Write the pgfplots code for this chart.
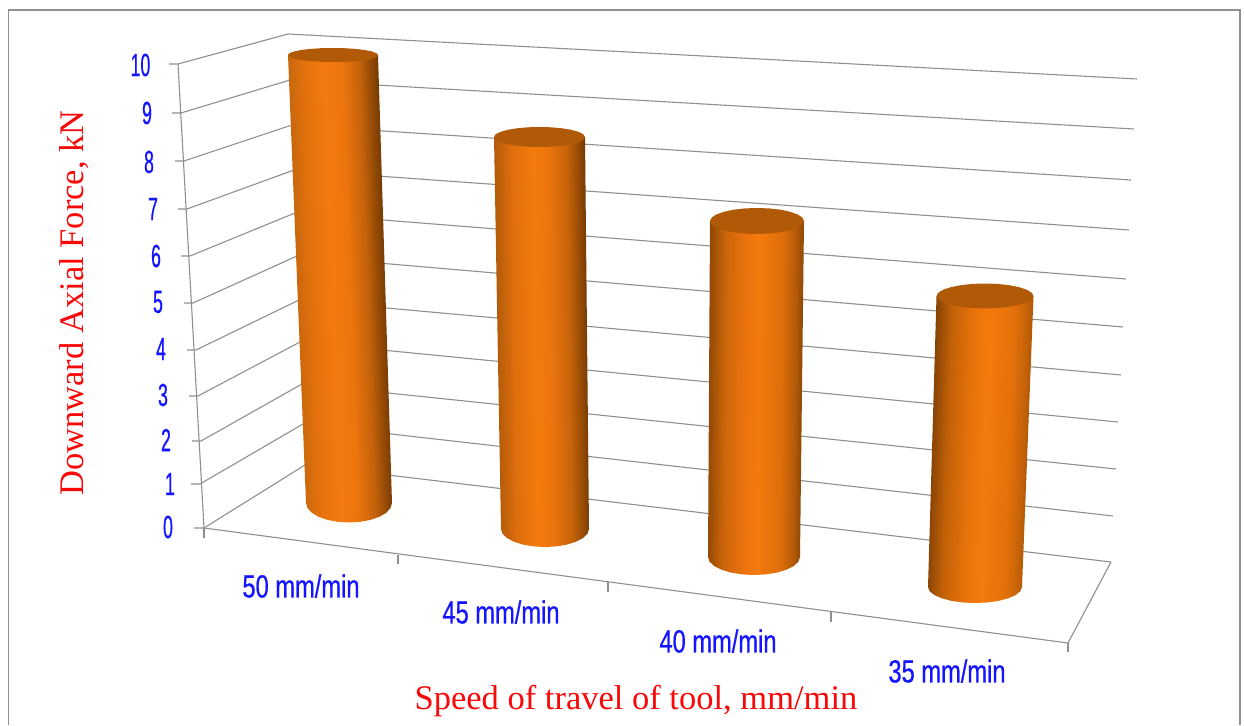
\documentclass[border=0pt]{standalone}
\usepackage{fontspec}
\usepackage{pgfplots}
\pgfplotsset{compat=1.18}
\setmainfont{Liberation Serif}
\newfontfamily\tickfont[FakeStretch=0.55,FakeBold=0.6]{Liberation Sans}
\newfontfamily\catfont[FakeStretch=0.74,FakeBold=0.6]{Liberation Sans}

\definecolor{gridgray}{HTML}{8F8F8F}
\definecolor{framegray}{HTML}{909090}
\definecolor{labelblue}{HTML}{1414FF}
\definecolor{titlered}{HTML}{F80808}
\definecolor{captop}{HTML}{B05A08}

% Cylinder body gradients: the path's box spans 25bp to 75bp of the shading
\pgfdeclarehorizontalshading{cylA}{100bp}{
  rgb(0bp)=(0.74,0.39,0.05); rgb(28.5bp)=(0.74,0.39,0.05); rgb(37bp)=(0.88,0.44,0.05); rgb(47bp)=(0.96,0.48,0.06); rgb(54bp)=(0.93,0.46,0.05);
  rgb(62bp)=(0.76,0.38,0.04); rgb(67bp)=(0.56,0.28,0.02); rgb(71.5bp)=(0.40,0.20,0.01); rgb(100bp)=(0.40,0.20,0.01)}
\pgfdeclarehorizontalshading{cylB}{100bp}{
  rgb(0bp)=(0.68,0.35,0.04); rgb(26.5bp)=(0.68,0.35,0.04); rgb(36bp)=(0.87,0.43,0.05); rgb(47bp)=(0.96,0.48,0.05); rgb(54bp)=(0.93,0.46,0.05);
  rgb(64bp)=(0.78,0.39,0.04); rgb(70bp)=(0.58,0.29,0.02); rgb(73.5bp)=(0.44,0.22,0.01); rgb(100bp)=(0.44,0.22,0.01)}
\pgfdeclarehorizontalshading{cylC}{100bp}{
  rgb(0bp)=(0.58,0.29,0.02); rgb(26bp)=(0.58,0.29,0.02); rgb(34bp)=(0.80,0.40,0.04); rgb(44bp)=(0.92,0.45,0.05); rgb(51bp)=(0.96,0.48,0.05);
  rgb(63bp)=(0.87,0.43,0.04); rgb(70bp)=(0.70,0.35,0.03); rgb(74bp)=(0.54,0.27,0.02); rgb(100bp)=(0.54,0.27,0.02)}
\pgfdeclarehorizontalshading{cylD}{100bp}{
  rgb(0bp)=(0.50,0.25,0.02); rgb(27bp)=(0.50,0.25,0.02); rgb(35bp)=(0.76,0.38,0.03); rgb(45bp)=(0.91,0.45,0.04); rgb(52bp)=(0.96,0.48,0.05);
  rgb(63bp)=(0.89,0.44,0.04); rgb(69bp)=(0.76,0.38,0.03); rgb(73bp)=(0.62,0.31,0.02); rgb(100bp)=(0.62,0.31,0.02)}

\pgfplotsset{
  wall/.style={draw=gridgray, line width=1.1pt, no marks},
  body/.style={draw=none, no marks},
  cap/.style={draw=none, fill=captop, no marks},
}
\newcommand{\tick}[3]{\node[text=labelblue, font=\tickfont\fontsize{32}{32}\selectfont, inner sep=0pt] at (axis cs:#1,#2) {#3};}
\newcommand{\cat}[3]{\node[text=labelblue, font=\catfont\fontsize{32}{32}\selectfont, inner sep=0pt] at (axis cs:#1,#2) {#3};}

\begin{document}
\begin{tikzpicture}
\path[use as bounding box] (0,0) rectangle (1244pt,725pt);
% The axis runs in screen units of the projected 3-D scene, y growing downward
\begin{axis}[
  at={(0,0)}, anchor=south west,
  scale only axis, width=1244pt, height=725pt,
  xmin=0, xmax=1244, ymin=0, ymax=725, y dir=reverse,
  hide axis, clip=false,
]
% outer frame
\addplot[draw=framegray, line width=1.5pt, no marks] coordinates {(8.5,725) (8.5,10) (1240,10) (1240,725)};

% level lines: side wall, then back wall, values 10 down to 0
\addplot[wall] coordinates {(169,64) (178,64) (288,34) (1137,79)};
\addplot[wall] coordinates {(172,113) (181,113) (290,80) (1134,129)};
\addplot[wall] coordinates {(175,161) (184,161) (292,125) (1131,180)};
\addplot[wall] coordinates {(178,209) (187,209) (294,170) (1129,230)};
\addplot[wall] coordinates {(181,256) (190,256) (295,213) (1126,279)};
\addplot[wall] coordinates {(184,303) (193,303) (297,256) (1123,327)};
\addplot[wall] coordinates {(187,350) (196,350) (299,300) (1121,375)};
\addplot[wall] coordinates {(189,396) (198,396) (300,342) (1118,422)};
\addplot[wall] coordinates {(192,441) (201,441) (302,384) (1116,469)};
\addplot[wall] coordinates {(191,484) (200,484) (303,424) (1113,516)};
\addplot[wall] coordinates {(194,528) (204,528) (305,465) (1111,562)};
% vertical wall edge
\addplot[wall] coordinates {(178,64) (204,528)};
% floor edges and category ticks
\addplot[wall] coordinates {(204,528) (1068,643) (1111,562)};
\addplot[wall] coordinates {(204,528) (204,538)};
\addplot[wall] coordinates {(398,555) (398,564)};
\addplot[wall] coordinates {(608,582) (608,592)};
\addplot[wall] coordinates {(831,612) (831,622)};
\addplot[wall] coordinates {(1068,643) (1068,652)};

% 50 mm/min
\addplot[body, shading=cylA, shading angle=2] coordinates {(288,55) (306,503) (307.5,508) (311.8,512.8) (318.6,516.8) (327.5,519.9) (337.9,521.8) (349,522.5) (360.1,521.8) (370.5,519.9) (379.4,516.8) (386.2,512.8) (390.5,508) (392,503) (378,55)} --cycle;
\addplot[cap] coordinates {(288,55) (289.5,56.8) (294,58.5) (301.2,60) (310.5,61.1) (321.4,61.8) (333,62) (344.6,61.8) (355.5,61.1) (364.8,60) (372,58.5) (376.5,56.8) (378,55) (376.5,53.2) (372,51.5) (364.8,50) (355.5,48.9) (344.6,48.2) (333,48) (321.4,48.2) (310.5,48.9) (301.2,50) (294,51.5) (289.5,53.2)} --cycle;

% 45 mm/min
\addplot[body, shading=cylB, shading angle=0.8] coordinates {(494,137) (501,529) (502.5,533.7) (506.9,538) (513.9,541.7) (523,544.6) (533.6,546.4) (545,547) (556.4,546.4) (567,544.6) (576.1,541.7) (583.1,538) (587.5,533.7) (589,529) (585,137)} --cycle;
\addplot[cap] coordinates {(494,137) (495.5,139.6) (500.1,142) (507.3,144.1) (516.8,145.7) (527.7,146.7) (539.5,147) (551.3,146.7) (562.3,145.7) (571.7,144.1) (578.9,142) (583.5,139.6) (585,137) (583.5,134.4) (578.9,132) (571.7,129.9) (562.3,128.3) (551.3,127.3) (539.5,127) (527.7,127.3) (516.8,128.3) (507.3,129.9) (500.1,132) (495.5,134.4)} --cycle;

% 40 mm/min
\addplot[body, shading=cylC, shading angle=-0.5] coordinates {(710,221) (708,557) (709.6,561.7) (714.2,566) (721.5,569.7) (731,572.6) (742.1,574.4) (754,575) (765.9,574.4) (777,572.6) (786.5,569.7) (793.8,566) (798.4,561.7) (800,557) (804,221)} --cycle;
\addplot[cap] coordinates {(710,221) (711.6,224.4) (716.3,227.5) (723.8,230.2) (733.5,232.3) (744.8,233.6) (757,234) (769.2,233.6) (780.5,232.3) (790.2,230.2) (797.7,227.5) (802.4,224.4) (804,221) (802.4,217.6) (797.7,214.5) (790.2,211.8) (780.5,209.7) (769.2,208.4) (757,208) (744.8,208.4) (733.5,209.7) (723.8,211.8) (716.3,214.5) (711.6,217.6)} --cycle;

% 35 mm/min
\addplot[body, shading=cylD, shading angle=-2] coordinates {(936.5,296) (928,587) (929.6,591.1) (934.3,595) (941.8,598.3) (951.5,600.9) (962.8,602.5) (975,603) (987.2,602.5) (998.5,600.9) (1008.2,598.3) (1015.7,595) (1020.4,591.1) (1022,587) (1033.5,296)} --cycle;
\addplot[cap] coordinates {(936.5,296) (938.2,299.2) (943,302.3) (950.7,304.8) (960.8,306.8) (972.4,308.1) (985,308.5) (997.6,308.1) (1009.2,306.8) (1019.3,304.8) (1027,302.3) (1031.8,299.2) (1033.5,296) (1031.8,292.8) (1027,289.8) (1019.3,287.2) (1009.2,285.2) (997.6,283.9) (985,283.5) (972.4,283.9) (960.8,285.2) (950.7,287.2) (943,289.8) (938.2,292.8)} --cycle;

% value labels along the wall edge
\tick{140.5}{65}{10}
\tick{147}{113}{9}
\tick{149}{162}{8}
\tick{153}{209}{7}
\tick{156}{256}{6}
\tick{158}{302}{5}
\tick{161}{349}{4}
\tick{163}{395}{3}
\tick{166}{440}{2}
\tick{170}{484}{1}
\tick{168}{527}{0}
% category labels
\cat{301}{586}{50 mm/min}
\cat{501}{612}{45 mm/min}
\cat{718}{641}{40 mm/min}
\cat{947}{671}{35 mm/min}

% axis titles
\node[text=titlered, font=\fontsize{34.5}{34.5}\selectfont, rotate=90, inner sep=0pt] at (axis cs:74,303) {Downward Axial Force, kN};
\node[text=titlered, font=\fontsize{34.5}{34.5}\selectfont, inner sep=0pt] at (axis cs:636,701) {Speed of travel of tool, mm/min};
\end{axis}
\end{tikzpicture}
\end{document}
